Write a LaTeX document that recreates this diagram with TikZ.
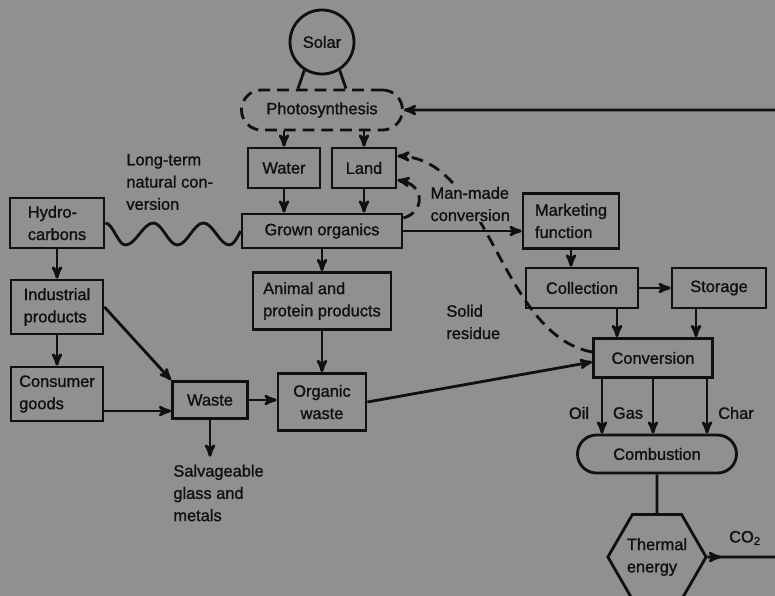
\documentclass[tikz,border=0pt]{standalone}
\usepackage{fontspec}
\setmainfont{Liberation Sans}[FakeBold=1.2]
\usetikzlibrary{arrows,shapes.geometric}

\definecolor{scan}{RGB}{144,144,144}
\definecolor{ink}{RGB}{16,16,16}

\begin{document}
\begin{tikzpicture}[x=0.03cm,y=-0.03cm,>=stealth',line width=2.4pt,color=ink]
\tikzstyle{every node}=[font=\fontsize{14}{19}\selectfont]
\tikzstyle{box}=[draw,rectangle,inner sep=0pt,align=left]
\tikzstyle{lbl}=[inner sep=0pt,align=left]
\tikzstyle{dashline}=[dash pattern=on 10pt off 6pt]

\useasboundingbox (0,0) rectangle (775,596);
\fill[scan] (0,0) rectangle (775,596);

% sun and plant side
\node[circle,draw,minimum size=1.92cm,inner sep=0pt] (solar) at (322,42) {Solar};
\node[box,dashline,rounded corners=0.6cm,minimum width=4.83cm,minimum height=1.2cm] (photo) [below of=solar,node distance=2.04cm] {Photosynthesis};
\node[box,minimum width=2.16cm,minimum height=1.2cm] (water) at (284,168) {Water};
\node[box,minimum width=1.92cm,minimum height=1.2cm] (land) [right of=water,node distance=2.4cm] {Land};
\node[box,minimum width=4.8cm,minimum height=1.02cm] (grown) at (322,231) {Grown organics};
\node[box,minimum width=4.14cm,minimum height=1.71cm] (anim) [below of=grown,node distance=2.1cm] {Animal and\\protein products};
\node[box,align=center,minimum width=2.64cm,minimum height=1.71cm] (orgw) [below of=anim,node distance=3.03cm] {Organic\\waste};

% fossil side
\node[box,minimum width=2.82cm,minimum height=1.5cm] (hyd) at (57,223) {Hydro-\\carbons};
\node[box,minimum width=2.76cm,minimum height=1.62cm] (ind) [below of=hyd,node distance=2.52cm] {Industrial\\products};
\node[box,minimum width=2.76cm,minimum height=1.62cm] (cons) [below of=ind,node distance=2.61cm] {Consumer\\goods};
\node[box,minimum width=2.25cm,minimum height=1.11cm] (waste) at (210,400) {Waste};

% energy side
\node[box,minimum width=2.88cm,minimum height=1.65cm] (mkt) at (571,221) {Marketing\\function};
\node[box,minimum width=3.36cm,minimum height=1.2cm] (coll) at (582,288) {Collection};
\node[box,minimum width=2.82cm,minimum height=1.2cm] (stor) [right of=coll,node distance=4.11cm] {Storage};
\node[box,minimum width=3.57cm,minimum height=1.17cm] (conv) at (653,358) {Conversion};
\node[box,rounded corners=0.57cm,minimum width=4.77cm,minimum height=1.14cm] (comb) at (657,454) {Combustion};
\node[regular polygon,regular polygon sides=6,draw,inner sep=0pt,align=left,minimum size=2.64cm] (therm) [below of=comb,node distance=3.09cm] {Thermal\\energy};

% labels
\node[lbl,anchor=west] (ltn) at (125,182) {Long-term\\natural con-\\version};
\node[lbl,anchor=west] (sres) at (445,322) {Solid\\residue};
\node[lbl,anchor=west] (salv) at (172,493) {Salvageable\\glass and\\metals};
\node[lbl] (oil) at (579,413) {Oil};
\node[lbl] (gas) at (628,413) {Gas};
\node[lbl] (char) at (736,413) {Char};
\node[lbl] (co2) at (745,538) {CO\textsubscript{2}};

\coordinate (feedin) at (775,110);
\coordinate (co2tip) at (721,557);
\coordinate (co2end) at (775,557);

\draw (solar.-122) -- ([xshift=-0.72cm]photo.north);
\draw (solar.-58) -- ([xshift=0.72cm]photo.north);

\path[->]
(photo.south -| water.north) edge (water.north)
(photo.south -| land.north) edge (land.north)
(water.south) edge (water.south |- grown.north)
(land.south) edge (land.south |- grown.north)
(grown) edge (anim)
(anim) edge (orgw)
(grown.east) edge (grown.east -| mkt.west)
(mkt.south) edge (mkt.south |- coll.north)
(coll) edge (stor)
([xshift=1.05cm]coll.south) edge ([xshift=1.05cm]coll.south |- conv.north)
([xshift=-0.69cm]stor.south) edge ([xshift=-0.69cm]stor.south |- conv.north)
([xshift=-1.53cm]conv.south) edge ([xshift=-1.53cm]conv.south |- comb.north)
(conv.south) edge (conv.south |- comb.north)
([xshift=1.62cm]conv.south) edge ([xshift=1.62cm]conv.south |- comb.north)
(orgw.east) edge ([yshift=-0.12cm]conv.west)
(waste.east) edge (waste.east -| orgw.west)
(ind.east) edge (waste.north west)
([yshift=-0.51cm]cons.east) edge ([yshift=-0.51cm]cons.east -| waste.west)
(hyd) edge (ind)
(ind) edge (cons)
(waste.south) edge ([yshift=0.2cm]waste.south |- salv.north)
(feedin) edge (photo.east)
(therm.east) edge (co2tip);

\draw (comb) -- (therm);
\draw (therm.east) -- (co2end);

% long-term natural conversion
\draw (hyd.east) cos ++(10,11) sin ++(10,11) cos ++(14,-11) sin ++(14,-11)
  cos ++(12,11) sin ++(12,11) cos ++(13,-11) sin ++(13,-11)
  cos ++(13,11) sin ++(13,11) cos (grown.west);

% recycling loops
\draw[->,dashline] ([yshift=0.39cm]grown.east) .. controls (425,212) and (425,185) .. ([yshift=-0.36cm]land.east);
\draw[->,dashline] ([yshift=0.18cm]conv.west) .. controls (500,335) and (490,160) .. ([yshift=0.36cm]land.east);

% label over the dashed loop
\node[lbl,anchor=west,fill=scan,inner sep=1pt] (mmc) at (428,204) {Man-made\\conversion};
\end{tikzpicture}
\end{document}
